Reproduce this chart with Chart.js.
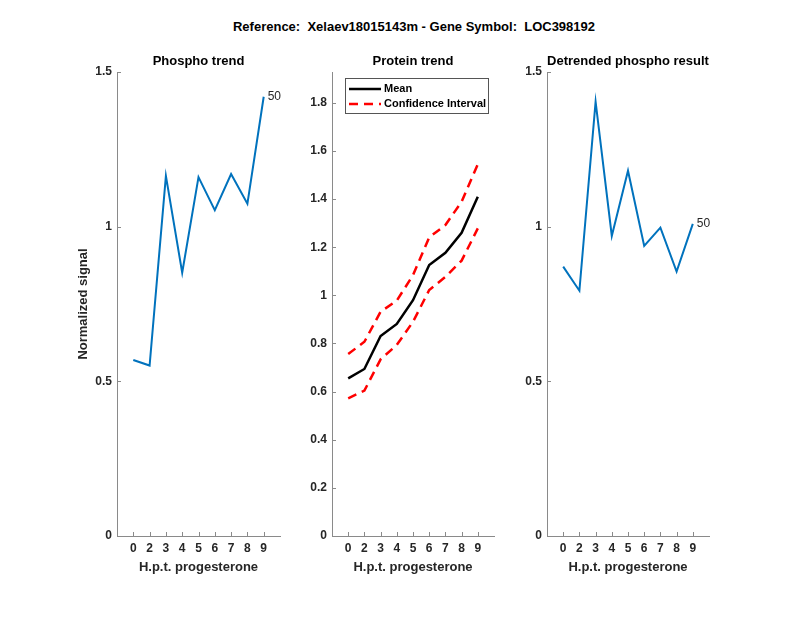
<!DOCTYPE html>
<html><head><meta charset="utf-8">
<script src="https://cdn.jsdelivr.net/npm/chart.js@4.4.0/dist/chart.umd.min.js"></script>
<style>
body{margin:0;background:#fff;width:800px;height:618px;overflow:hidden;position:relative;font-family:"Liberation Sans",Arial,sans-serif;}
canvas{position:absolute;left:0;top:0;}
#title{position:absolute;top:19px;left:0;width:828px;text-align:center;font-weight:bold;font-size:13px;line-height:16px;color:#000;white-space:pre;}
</style></head><body>
<div id="title">Reference:  Xelaev18015143m - Gene Symbol:  LOC398192</div>
<canvas id="c1" width="800" height="618"></canvas>
<canvas id="c2" width="800" height="618"></canvas>
<canvas id="c3" width="800" height="618"></canvas>
<script>
const categories = ['0','2','3','4','5','6','7','8','9'];
const phosphoTrend = [0.569,0.551,1.164,0.851,1.160,1.053,1.170,1.074,1.420];
const proteinMean  = [0.655,0.694,0.831,0.881,0.980,1.126,1.177,1.260,1.410];
const proteinUpper = [0.756,0.807,0.932,0.978,1.084,1.241,1.292,1.389,1.545];
const proteinLower = [0.572,0.604,0.734,0.794,0.890,1.022,1.077,1.144,1.278];
const detrended    = [0.871,0.793,1.404,0.970,1.181,0.938,0.997,0.855,1.009];
const phosphoTicks = [0,0.5,1,1.5];
const proteinTicks = [0,0.2,0.4,0.6,0.8,1,1.2,1.4,1.6,1.8];
const panelTitles = ['Phospho trend','Protein trend','Detrended phospho result'];
const endLabel = '50';
const xTitle = 'H.p.t. progesterone';
const yTitle = 'Normalized signal';

const AX = '#8a8a8a', TXT = '#262626';
const toXY = arr => arr.map((v,i)=>({x:i+1,y:v}));

const decor = {
  id:'decor',
  afterDraw(chart, args, o){
    const ctx = chart.ctx, a = chart.chartArea, xs = chart.scales.x, ys = chart.scales.y;
    ctx.save();
    ctx.strokeStyle = AX; ctx.lineWidth = 1;
    xs.ticks.forEach(t=>{const p=Math.round(xs.getPixelForValue(t.value))+0.5;ctx.beginPath();ctx.moveTo(p,a.bottom);ctx.lineTo(p,a.bottom-4);ctx.stroke();});
    ys.ticks.forEach(t=>{const p=Math.round(ys.getPixelForValue(t.value))+0.5;ctx.beginPath();ctx.moveTo(a.left,p);ctx.lineTo(a.left+4,p);ctx.stroke();});
    ctx.fillStyle='#000'; ctx.font='bold 13px "Liberation Sans", Arial, sans-serif';
    ctx.textAlign='center'; ctx.textBaseline='middle';
    ctx.fillText(o.title,(a.left+a.right)/2,61);
    if(o.endLabel){
      const ds = chart.data.datasets[0].data, last = ds[ds.length-1];
      ctx.font='12px "Liberation Sans", Arial, sans-serif'; ctx.fillStyle=TXT; ctx.textAlign='left';
      ctx.fillText(endLabel, xs.getPixelForValue(last.x)+4, ys.getPixelForValue(last.y));
    }
    if(o.legend){
      ctx.fillStyle='#fff'; ctx.fillRect(345.5,78.5,143,35);
      ctx.strokeStyle='#555'; ctx.lineWidth=1; ctx.strokeRect(345.5,78.5,143,35);
      const items=[chart.data.datasets[0],chart.data.datasets[1]]; const ys2=[89,104];
      items.forEach((d,i)=>{
        ctx.strokeStyle=d.borderColor; ctx.lineWidth=d.borderWidth; ctx.setLineDash(d.borderDash||[]);
        ctx.beginPath(); ctx.moveTo(349,ys2[i]); ctx.lineTo(381,ys2[i]); ctx.stroke();
        ctx.setLineDash([]);
        ctx.fillStyle='#000'; ctx.font='bold 11px "Liberation Sans", Arial, sans-serif'; ctx.textAlign='left';
        ctx.fillText(d.label,384,ys2[i]);
      });
    }
    ctx.restore();
  }
};

function makePanel(id, datasets, left, right, ymax, yticks, opts, showYTitle){
  new Chart(document.getElementById(id), {
    type:'line',
    data:{datasets},
    plugins:[decor],
    options:{
      responsive:false, animation:false, events:[],
      layout:{padding:{left:left-60, right:800-right, top:72, bottom:42}},
      plugins:{legend:{display:false}, tooltip:{enabled:false}, decor:opts},
      elements:{point:{radius:0}, line:{tension:0}},
      scales:{
        x:{type:'linear', min:0, max:10,
           afterBuildTicks:s=>{s.ticks=categories.map((c,i)=>({value:i+1}));},
           afterFit:s=>{s.height=40;},
           grid:{display:false, drawTicks:false},
           border:{display:true,color:AX,width:1},
           ticks:{padding:5, color:TXT, font:{family:'"Liberation Sans", Arial, sans-serif', size:12, weight:'bold'},
                  callback:v=>categories[Math.round(v)-1] ?? '', maxRotation:0, autoSkip:false},
           title:{display:true, text:xTitle, color:TXT, font:{family:'"Liberation Sans", Arial, sans-serif', size:13, weight:'bold'}, padding:{top:0,bottom:1}}
        },
        y:{type:'linear', min:0, max:ymax,
           afterBuildTicks:s=>{s.ticks=yticks.map(v=>({value:v}));},
           afterFit:s=>{s.width=60;},
           grid:{display:false, drawTicks:false},
           border:{display:true,color:AX,width:1},
           ticks:{padding:5, color:TXT, font:{family:'"Liberation Sans", Arial, sans-serif', size:12, weight:'bold'},
                  callback:v=>String(+(+v).toFixed(2)), autoSkip:false},
           title:{display:showYTitle, text:yTitle, color:TXT, font:{family:'"Liberation Sans", Arial, sans-serif', size:13, weight:'bold'}, padding:{top:19,bottom:0}}
        }
      }
    }
  });
}

const blue = '#0072BD';
makePanel('c1', [{label:'Phospho', data:toXY(phosphoTrend), borderColor:blue, borderWidth:2}], 117, 280, 1.5, phosphoTicks, {title:panelTitles[0], endLabel:true}, true);
makePanel('c2', [
  {label:'Mean', data:toXY(proteinMean), borderColor:'#000000', borderWidth:2.5},
  {label:'Confidence Interval', data:toXY(proteinUpper), borderColor:'#FF0000', borderWidth:2.5, borderDash:[9,6]},
  {label:'Confidence Interval', data:toXY(proteinLower), borderColor:'#FF0000', borderWidth:2.5, borderDash:[9,6]}
], 332, 494, 1.928, proteinTicks, {title:panelTitles[1], legend:true}, false);
makePanel('c3', [{label:'Detrended', data:toXY(detrended), borderColor:blue, borderWidth:2}], 547, 709, 1.5, phosphoTicks, {title:panelTitles[2], endLabel:true}, false);
</script>
</body></html>
